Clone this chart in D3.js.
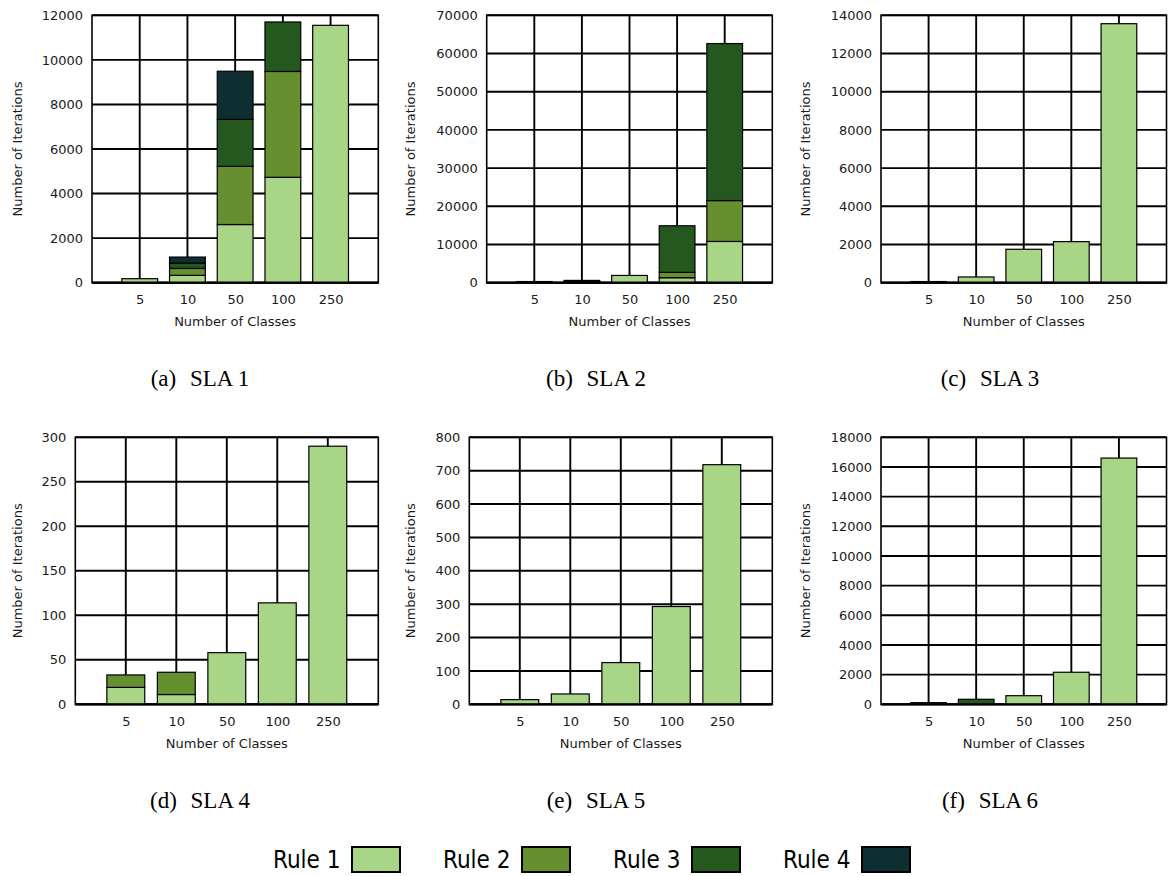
<!DOCTYPE html>
<html>
<head>
<meta charset="utf-8">
<script src="https://cdn.jsdelivr.net/npm/d3@7"></script>
<style>
  html, body { margin: 0; padding: 0; background: #fff; }
  svg { display: block; }
</style>
</head>
<body>
<svg id="chart" width="1168" height="876"></svg>
<script>
// ---------------- DATA ----------------
const categories = ["5", "10", "50", "100", "250"];
const ruleNames = ["Rule 1", "Rule 2", "Rule 3", "Rule 4"];
const ruleColors = ["#a8d686", "#668f30", "#25581e", "#0f2e31"];

const panelLetters = ["(a)", "(b)", "(c)", "(d)", "(e)", "(f)"];
const panelTitles = ["SLA 1", "SLA 2", "SLA 3", "SLA 4", "SLA 5", "SLA 6"];
const yMax = [12000, 70000, 14000, 300, 800, 18000];
const yStep = [2000, 10000, 2000, 50, 100, 2000];

// SLA 1
const sla1Rule1 = [180, 330, 2610, 4730, 11550];
const sla1Rule2 = [0, 310, 2610, 4750, 0];
const sla1Rule3 = [0, 240, 2110, 2220, 0];
const sla1Rule4 = [0, 270, 2160, 0, 0];
// SLA 2
const sla2Rule1 = [150, 250, 1900, 1300, 10800];
const sla2Rule2 = [0, 0, 0, 1400, 10700];
const sla2Rule3 = [150, 350, 0, 12200, 41100];
const sla2Rule4 = [0, 0, 0, 0, 0];
// SLA 3
const sla3Rule1 = [60, 300, 1750, 2150, 13560];
const sla3Rule2 = [0, 0, 0, 0, 0];
const sla3Rule3 = [0, 0, 0, 0, 0];
const sla3Rule4 = [0, 0, 0, 0, 0];
// SLA 4
const sla4Rule1 = [19, 11, 58, 114, 290];
const sla4Rule2 = [14, 25, 0, 0, 0];
const sla4Rule3 = [0, 0, 0, 0, 0];
const sla4Rule4 = [0, 0, 0, 0, 0];
// SLA 5
const sla5Rule1 = [14, 31, 125, 293, 718];
const sla5Rule2 = [0, 0, 0, 0, 0];
const sla5Rule3 = [0, 0, 0, 0, 0];
const sla5Rule4 = [0, 0, 0, 0, 0];
// SLA 6
const sla6Rule1 = [0, 0, 580, 2160, 16600];
const sla6Rule2 = [0, 0, 0, 0, 0];
const sla6Rule3 = [110, 340, 0, 0, 0];
const sla6Rule4 = [0, 0, 0, 0, 0];

const panelSeries = [
  [sla1Rule1, sla1Rule2, sla1Rule3, sla1Rule4],
  [sla2Rule1, sla2Rule2, sla2Rule3, sla2Rule4],
  [sla3Rule1, sla3Rule2, sla3Rule3, sla3Rule4],
  [sla4Rule1, sla4Rule2, sla4Rule3, sla4Rule4],
  [sla5Rule1, sla5Rule2, sla5Rule3, sla5Rule4],
  [sla6Rule1, sla6Rule2, sla6Rule3, sla6Rule4]
];

// ---------------- LAYOUT ----------------
const layout = [
  {left: 92,    right: 378.3,  top: 15.3,  bottom: 282.7, col: 0,   capX: 200},
  {left: 486.7, right: 772.3,  top: 15.3,  bottom: 282.7, col: 393, capX: 596},
  {left: 881,   right: 1166.5, top: 15.3,  bottom: 282.7, col: 788, capX: 990},
  {left: 75.3,  right: 378.3,  top: 437.3, bottom: 704.3, col: 0,   capX: 200},
  {left: 469.3, right: 772.3,  top: 437.3, bottom: 704.3, col: 393, capX: 596},
  {left: 881,   right: 1166.5, top: 437.3, bottom: 704.3, col: 788, capX: 990}
];
const captionY = [386, 386, 386, 808, 808, 808];

const svg = d3.select("#chart");
const axisFont = "'DejaVu Sans', Verdana, sans-serif";
const gridColor = "#000";

panelSeries.forEach((series, p) => {
  const L = layout[p];
  const g = svg.append("g");

  // x: 6 slots, categories at 1..5
  const x = d3.scaleLinear().domain([0, categories.length + 1]).range([L.left, L.right]);
  const step = x(1) - x(0);
  const barW = step * 0.75;
  const y = d3.scaleLinear().domain([0, yMax[p]]).range([L.bottom, L.top]);
  const ticks = d3.range(0, yMax[p] + yStep[p] / 2, yStep[p]);

  // horizontal grid
  g.selectAll("line.hg").data(ticks).join("line")
    .attr("x1", L.left).attr("x2", L.right)
    .attr("y1", d => y(d)).attr("y2", d => y(d))
    .attr("stroke", gridColor).attr("stroke-width", 1.9);
  // vertical grid at categories
  g.selectAll("line.vg").data(categories).join("line")
    .attr("x1", (d, i) => x(i + 1)).attr("x2", (d, i) => x(i + 1))
    .attr("y1", L.top).attr("y2", L.bottom)
    .attr("stroke", gridColor).attr("stroke-width", 1.9);
  // frame
  g.append("rect")
    .attr("x", L.left).attr("y", L.top)
    .attr("width", L.right - L.left).attr("height", L.bottom - L.top)
    .attr("fill", "none").attr("stroke", "#000").attr("stroke-width", 1.6);

  // stacked bars
  const rows = categories.map((c, i) => {
    const o = {idx: i};
    series.forEach((s, k) => { o["r" + k] = s[i]; });
    return o;
  });
  const stack = d3.stack().keys(series.map((s, k) => "r" + k));
  const stacked = stack(rows);
  stacked.forEach((layer, k) => {
    g.selectAll("rect.l" + k)
      .data(layer.filter(d => d[1] - d[0] > 0))
      .join("rect")
      .attr("x", d => x(d.data.idx + 1) - barW / 2)
      .attr("width", barW)
      .attr("y", d => y(d[1]))
      .attr("height", d => y(d[0]) - y(d[1]))
      .attr("fill", ruleColors[k])
      .attr("stroke", "#000")
      .attr("stroke-width", 1.2);
  });
  // bottom axis line (thicker)
  g.append("line")
    .attr("x1", L.left).attr("x2", L.right)
    .attr("y1", L.bottom).attr("y2", L.bottom)
    .attr("stroke", "#000").attr("stroke-width", 2.2);

  // y axis labels
  const yAxis = d3.axisLeft(y).tickValues(ticks).tickSize(0).tickPadding(9)
    .tickFormat(d3.format("d"));
  const ya = g.append("g").attr("transform", `translate(${L.left},0)`).call(yAxis);
  ya.select(".domain").remove();
  ya.selectAll("text").attr("font-family", axisFont).attr("font-size", 13).attr("fill", "#1a1a1a");

  // x axis labels
  const xAxis = d3.axisBottom(x).tickValues(categories.map((c, i) => i + 1))
    .tickFormat((d) => categories[d - 1]).tickSize(0).tickPadding(12);
  const xa = g.append("g").attr("transform", `translate(0,${L.bottom})`).call(xAxis);
  xa.select(".domain").remove();
  xa.selectAll("text").attr("font-family", axisFont).attr("font-size", 13).attr("fill", "#1a1a1a");

  // axis titles
  g.append("text")
    .attr("transform", `translate(${L.col + 17},${(L.top + L.bottom) / 2}) rotate(-90)`)
    .attr("text-anchor", "middle").attr("dy", "0.35em")
    .attr("font-family", axisFont).attr("font-size", 13).attr("fill", "#1a1a1a")
    .text("Number of Iterations");
  g.append("text")
    .attr("x", (L.left + L.right) / 2).attr("y", L.bottom + 43.5)
    .attr("text-anchor", "middle")
    .attr("font-family", axisFont).attr("font-size", 13).attr("fill", "#1a1a1a")
    .text("Number of Classes");

  // caption
  const cap = g.append("text")
    .attr("x", L.capX).attr("y", captionY[p])
    .attr("text-anchor", "middle")
    .attr("font-family", "'Liberation Serif', 'Times New Roman', serif")
    .attr("font-size", 23).attr("fill", "#000");
  cap.append("tspan").text(panelLetters[p]);
  cap.append("tspan").attr("dx", 8).text(" " + panelTitles[p]);
});

// ---------------- LEGEND ----------------
const legend = svg.append("g");
ruleNames.forEach((name, k) => {
  const x0 = 273 + k * 170;
  legend.append("text")
    .attr("x", x0).attr("y", 868)
    .attr("font-family", "'Liberation Sans Narrow', 'DejaVu Sans Condensed', 'Liberation Sans', sans-serif")
    .attr("font-size", 24).attr("fill", "#000")
    .text(name);
  legend.append("rect")
    .attr("x", x0 + 79).attr("y", 847)
    .attr("width", 48).attr("height", 25)
    .attr("fill", ruleColors[k]).attr("stroke", "#000").attr("stroke-width", 2);
});
</script>
</body>
</html>
